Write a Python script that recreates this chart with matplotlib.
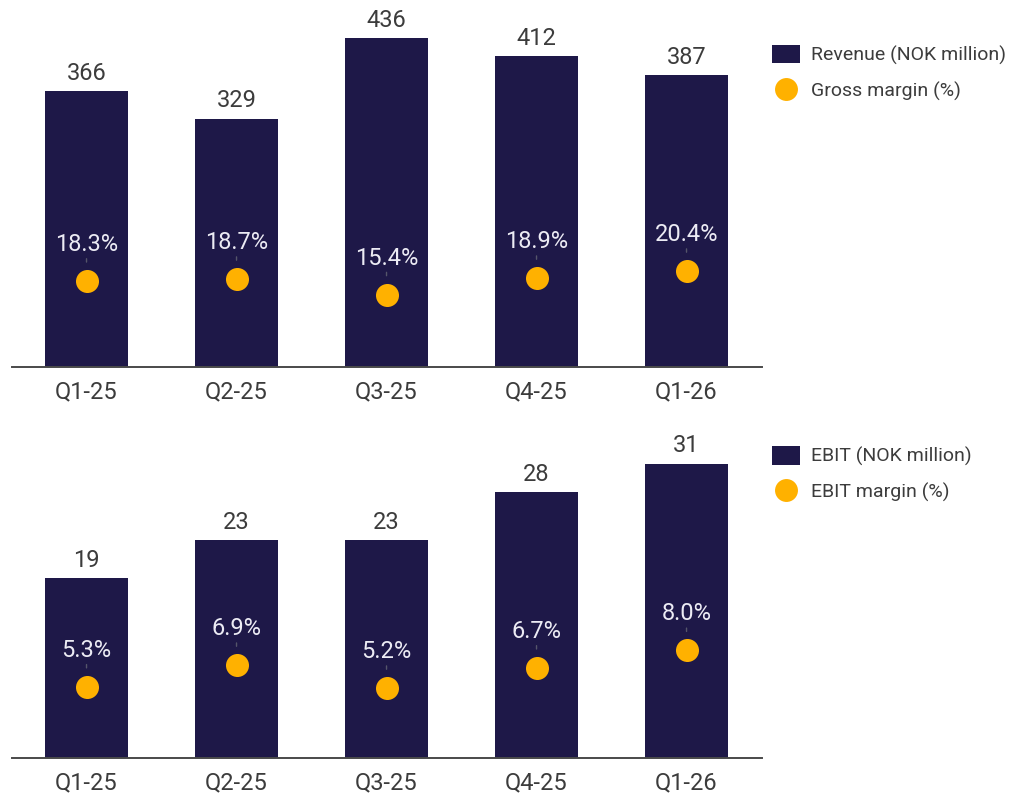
import matplotlib
matplotlib.use("Agg")
import matplotlib.pyplot as plt
from matplotlib.patches import Patch
from matplotlib.lines import Line2D

plt.rcParams["font.family"] = ["Roboto", "DejaVu Sans"]

# quarterly figures, NOK million and percent
quarters = ["Q1-25", "Q2-25", "Q3-25", "Q4-25", "Q1-26"]
revenue = [366, 329, 436, 412, 387]
gross_margin = [18.3, 18.7, 15.4, 18.9, 20.4]
ebit = [19, 23, 23, 28, 31]
ebit_margin = [5.3, 6.9, 5.2, 6.7, 8.0]

NAVY = "#1e1848"
AMBER = "#ffb100"
TEXT = "#3c3c3c"


def panel(ax, bars_vals, pct_vals, ymax, pmax, bar_name, pct_name, legend_y):
    x = range(len(quarters))
    bars = ax.bar(x, bars_vals, width=0.553, color=NAVY, zorder=2)
    ax.bar_label(bars, labels=[str(v) for v in bars_vals], padding=4.5,
                 fontsize=17, color=TEXT)
    ax.set_xlim(-0.5, 4.5)
    ax.set_ylim(0, ymax)
    ax.set_xticks(list(x))
    ax.set_xticklabels(quarters, fontsize=17, color=TEXT)
    ax.tick_params(axis="x", length=0, pad=9.5)
    ax.set_yticks([])
    for s in ["top", "left", "right"]:
        ax.spines[s].set_visible(False)
    ax.spines["bottom"].set_color("#4a4a4a")
    ax.spines["bottom"].set_linewidth(1.4)
    ax.spines["bottom"].set_zorder(3)

    # margin dots on their own scale, with labels just above
    ax2 = ax.twinx()
    ax2.set_ylim(0, pmax)
    ax2.axis("off")
    ax2.scatter(list(x), pct_vals, s=275, color=AMBER, zorder=3, linewidths=0)
    for xi, v in zip(x, pct_vals):
        ax2.annotate(f"{v:.1f}%", xy=(xi, v), xytext=(0, 26.4),
                     textcoords="offset points", ha="center", va="center",
                     fontsize=17, color="#ecebf4",
                     arrowprops=dict(arrowstyle="-", color="#55556a", lw=1,
                                     shrinkA=0, shrinkB=13.7))

    handles = [Patch(facecolor=NAVY, edgecolor="none"),
               Line2D([], [], marker="o", color="none", markerfacecolor=AMBER,
                      markeredgecolor="none", markersize=16.5)]
    fig.legend(handles, [bar_name, pct_name], loc="upper left",
               bbox_to_anchor=(0.740, legend_y), frameon=False,
               fontsize=14, labelcolor=TEXT, handlelength=1.45,
               handleheight=1.1, handletextpad=0.55, labelspacing=0.82)


fig = plt.figure(figsize=(10.2, 7.98), dpi=100)
ax_top = fig.add_axes([0.0113, 0.540, 0.7353, 0.4474])
ax_bot = fig.add_axes([0.0113, 0.0495, 0.7353, 0.4242])

panel(ax_top, revenue, gross_margin, 473, 76,
      "Revenue (NOK million)", "Gross margin (%)", 0.966)
panel(ax_bot, ebit, ebit_margin, 35.6, 25.07,
      "EBIT (NOK million)", "EBIT margin (%)", 0.463)

fig.savefig("out.png", dpi=100)
